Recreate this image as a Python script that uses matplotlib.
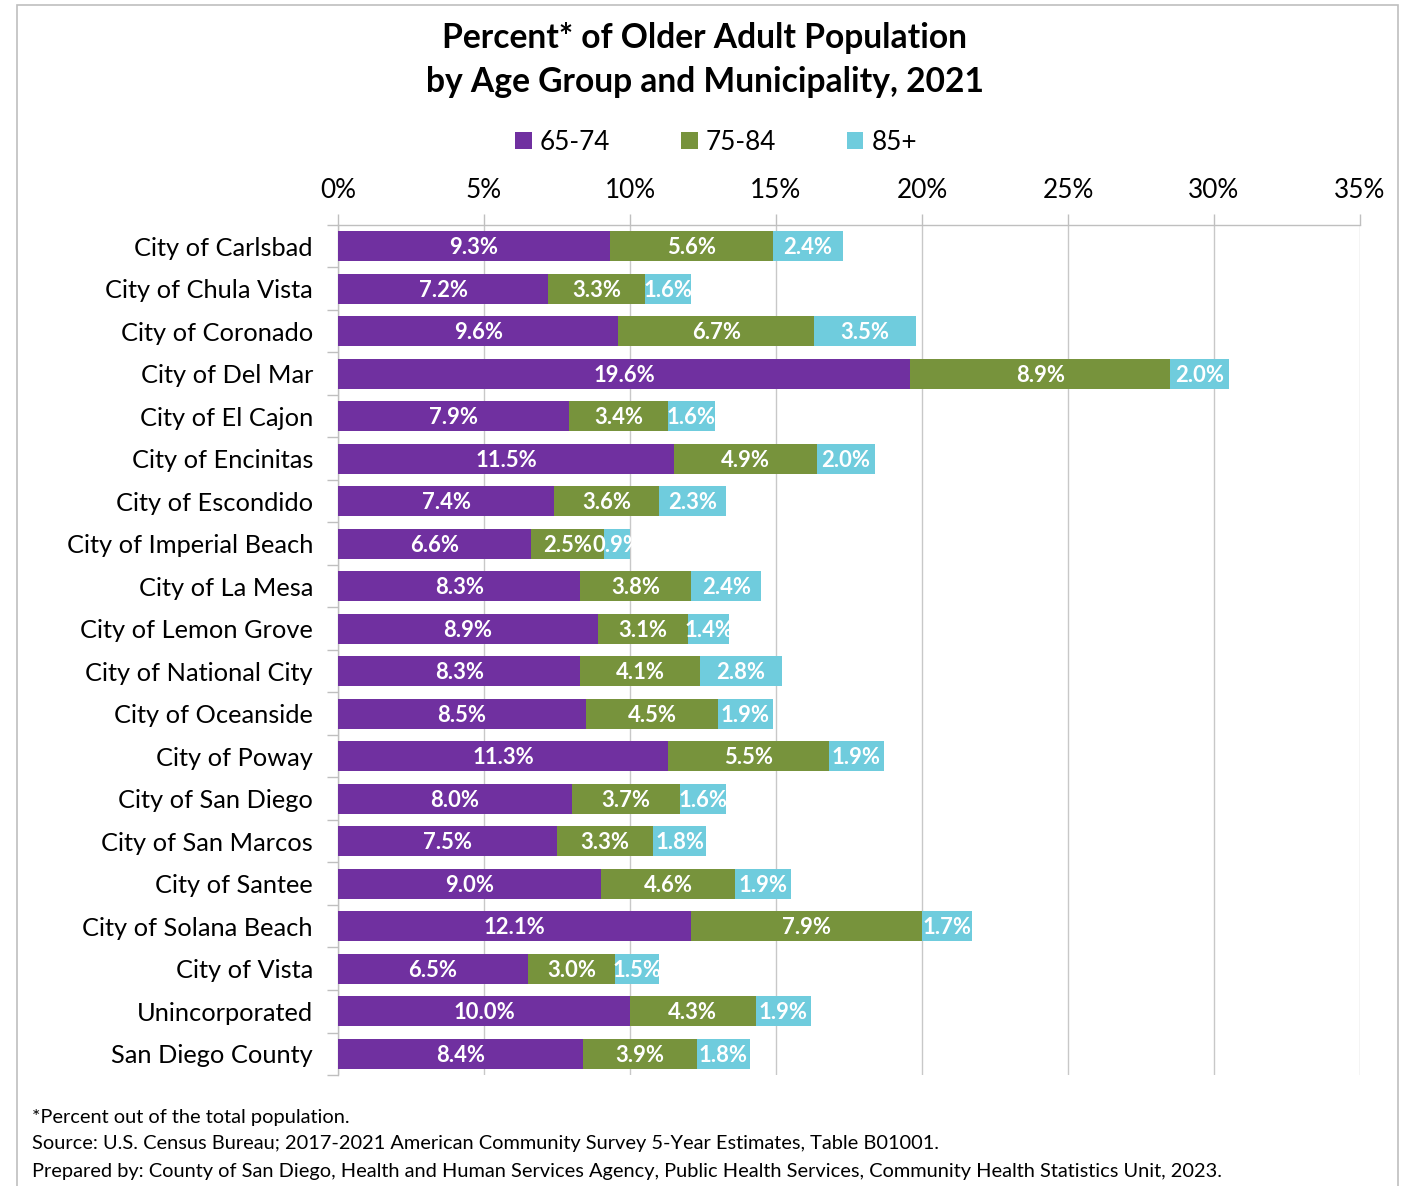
import matplotlib
matplotlib.use("Agg")
import matplotlib.pyplot as plt
from matplotlib.patches import Rectangle
import numpy as np

plt.rcParams['font.family'] = ['Lato', 'DejaVu Sans']

municipalities = ["City of Carlsbad", "City of Chula Vista", "City of Coronado", "City of Del Mar",
                  "City of El Cajon", "City of Encinitas", "City of Escondido", "City of Imperial Beach",
                  "City of La Mesa", "City of Lemon Grove", "City of National City", "City of Oceanside",
                  "City of Poway", "City of San Diego", "City of San Marcos", "City of Santee",
                  "City of Solana Beach", "City of Vista", "Unincorporated", "San Diego County"]
age_65_74 = [9.3, 7.2, 9.6, 19.6, 7.9, 11.5, 7.4, 6.6, 8.3, 8.9, 8.3, 8.5, 11.3, 8.0, 7.5, 9.0, 12.1, 6.5, 10.0, 8.4]
age_75_84 = [5.6, 3.3, 6.7, 8.9, 3.4, 4.9, 3.6, 2.5, 3.8, 3.1, 4.1, 4.5, 5.5, 3.7, 3.3, 4.6, 7.9, 3.0, 4.3, 3.9]
age_85_plus = [2.4, 1.6, 3.5, 2.0, 1.6, 2.0, 2.3, 0.9, 2.4, 1.4, 2.8, 1.9, 1.9, 1.6, 1.8, 1.9, 1.7, 1.5, 1.9, 1.8]
series_names = ["65-74", "75-84", "85+"]
colors = ["#7030A0", "#77933C", "#6FCCDD"]
x_ticks = [0, 5, 10, 15, 20, 25, 30, 35]

W, H = 1404, 1186
fig = plt.figure(figsize=(W / 100, H / 100), dpi=100)
ax = fig.add_axes([338 / W, 1 - 1075 / H, (1360 - 338) / W, (1075 - 225) / H])

y = np.arange(len(municipalities))
left = np.zeros(len(municipalities))
for vals, name, c in zip([age_65_74, age_75_84, age_85_plus], series_names, colors):
    vals = np.array(vals)
    ax.barh(y, vals, left=left, height=0.71, color=c, label=name, zorder=3)
    for yi, l, v in zip(y, left, vals):
        ax.text(l + v / 2, yi + 0.03, f"{v:.1f}%", ha="center", va="center", color="white",
                fontsize=15.8, fontweight="bold", zorder=4)
    left = left + vals

ax.set_xlim(0, 35)
ax.set_ylim(len(municipalities) - 0.5, -0.5)
ax.set_xticks(x_ticks)
ax.set_xticklabels([f"{t}%" for t in x_ticks])
ax.xaxis.tick_top()
ax.tick_params(axis="x", which="both", length=8, width=1, color="#BFBFBF", labelsize=18.8, pad=8, labelcolor="black")
ax.set_yticks(y)
ax.set_yticklabels(municipalities)
ax.set_yticks(np.arange(-0.5, len(municipalities), 1), minor=True)
ax.tick_params(axis="y", which="major", length=0, labelsize=18.3, pad=18)
ax.tick_params(axis="y", which="minor", length=8, width=1, color="#BFBFBF")
ax.grid(axis="x", color="#C8C8C8", linewidth=1, zorder=0)
for s in ["right", "bottom"]:
    ax.spines[s].set_visible(False)
for s in ["top", "left"]:
    ax.spines[s].set_color("#BFBFBF")
    ax.spines[s].set_linewidth(1)

fig.text(705 / W, 1 - 60 / H, "Percent* of Older Adult Population\nby Age Group and Municipality, 2021",
         ha="center", va="center", fontsize=24.2, fontweight="bold", linespacing=1.45)

handles, labels = ax.get_legend_handles_labels()
fig.legend(handles, labels, loc="center", bbox_to_anchor=(716 / W, 1 - 142 / H), ncol=3,
           frameon=False, fontsize=18.8, handlelength=0.65, handleheight=0.65,
           handletextpad=0.3, columnspacing=2.7)

foot = ["*Percent out of the total population.",
        "Source: U.S. Census Bureau; 2017-2021 American Community Survey 5-Year Estimates, Table B01001.",
        "Prepared by: County of San Diego, Health and Human Services Agency, Public Health Services, Community Health Statistics Unit, 2023."]
for i, t in enumerate(foot):
    fig.text(32 / W, 1 - (1117 + 27 * i) / H, t, ha="left", va="center", fontsize=14.4)

fig.patches.append(Rectangle((17 / W, -0.01), (1398 - 17) / W, 1.01 - 5 / H, transform=fig.transFigure,
                             fill=False, edgecolor="#BFBFBF", linewidth=1.2))

fig.savefig("out.png", dpi=100)
